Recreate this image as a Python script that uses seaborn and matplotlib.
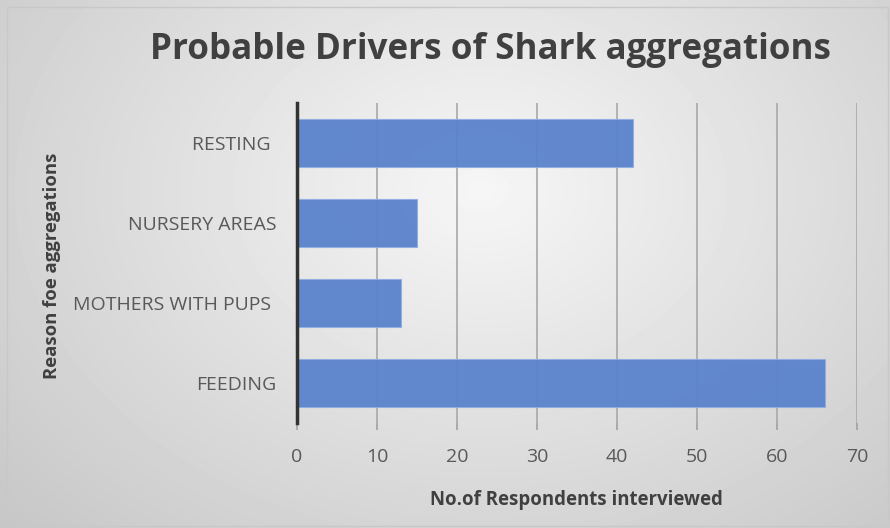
import numpy as np
import pandas as pd
import matplotlib
matplotlib.use("Agg")
import matplotlib.pyplot as plt
import seaborn as sns

categories = ["RESTING ", "NURSERY AREAS", "MOTHERS WITH PUPS ", "FEEDING"]
values = [42, 15, 13, 66]
x_ticks = [0, 10, 20, 30, 40, 50, 60, 70]

title = "Probable Drivers of Shark aggregations"
xlabel = "No.of Respondents interviewed"
ylabel = "Reason foe aggregations"

sns.set_theme(style="white")
plt.rcParams['font.family'] = ['Open Sans', 'DejaVu Sans']

df = pd.DataFrame({"reason": categories, "count": values})

fig = plt.figure(figsize=(8.9, 5.28), dpi=100)

# gradient background
bg = fig.add_axes([0, 0, 1, 1], zorder=-10)
H, W = 528, 890
yy, xx = np.mgrid[0:H, 0:W]
d = np.sqrt(((xx - 480) / 560.0) ** 2 + ((yy - 190) / 420.0) ** 2)
img = np.clip(0.965 - 0.16 * d, 0.78, 0.97)
bg.imshow(img, cmap="gray", vmin=0, vmax=1, aspect="auto", extent=[0, W, H, 0])
bg.plot([7, W - 2, W - 2, 7, 7], [7, 7, H - 2, H - 2, 7], color="#c8c8c8", lw=1)
bg.set_xlim(0, W)
bg.set_ylim(H, 0)
bg.axis("off")

ax = fig.add_axes([297 / 890, 1 - 423 / 528, 560 / 890, 320 / 528])
ax.patch.set_alpha(0)
sns.barplot(data=df, x="count", y="reason", order=categories, orient="h",
            color="#5A82CB", width=0.6, ax=ax, zorder=3,
            edgecolor="#8FAEE0", linewidth=0.8, saturation=1)
for p in ax.patches:
    p.set_alpha(0.95)

ax.set_xlim(0, 70)
ax.set_ylim(3.5, -0.5)
ax.set_xticks(x_ticks)
ax.xaxis.grid(True, color="#a8a8a8", lw=1.2, zorder=0)
ax.set_axisbelow(True)
for s in ["top", "right", "bottom"]:
    ax.spines[s].set_visible(False)
ax.spines["left"].set_color("#333333")
ax.spines["left"].set_linewidth(2.5)
ax.spines["left"].set_zorder(5)

ax.tick_params(axis="x", length=5, width=1.2, color="#a0a0a0", pad=13,
               labelsize=14, labelcolor="#595959", bottom=True)
ax.tick_params(axis="y", length=0, pad=15, labelsize=14, labelcolor="#595959")

ax.set_xlabel("")
ax.set_ylabel("")
fig.text(576 / 890, 1 - 500 / 528, xlabel, ha="center", va="center",
         fontsize=13.4, fontweight="bold", color="#404040")
fig.text(52 / 890, 1 - 266 / 528, ylabel, rotation=90, ha="center", va="center",
         fontsize=13.3, fontweight="bold", color="#404040")

fig.text(491 / 890, 1 - 50 / 528, title, ha="center", va="center",
         fontsize=25.2, fontweight="bold", color="#404040")

fig.savefig("out.png", dpi=100)
